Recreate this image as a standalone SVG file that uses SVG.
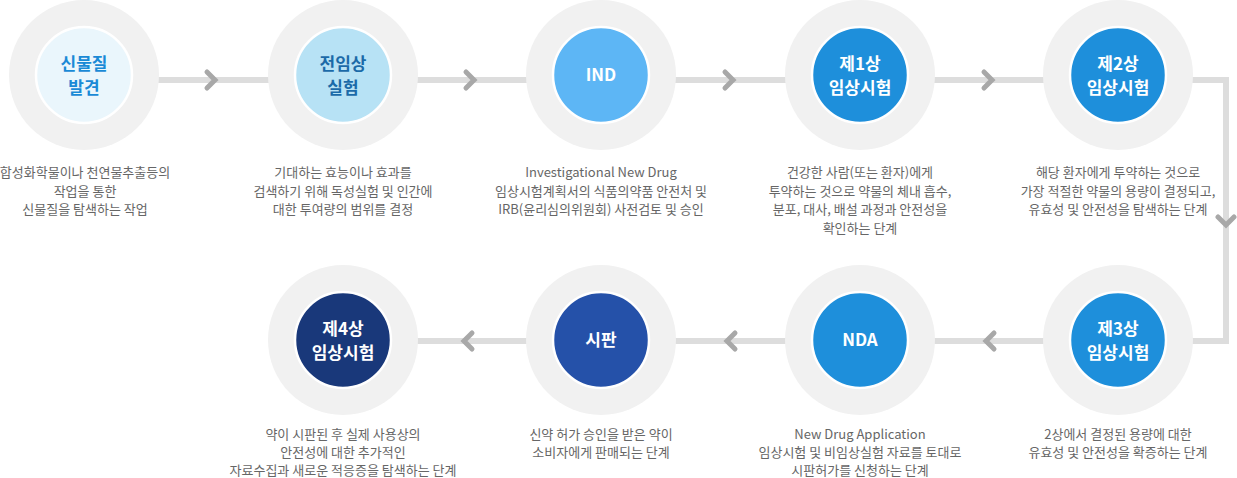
<svg xmlns="http://www.w3.org/2000/svg" width="1237" height="478" viewBox="0 0 1237 478">
<style>
.outer{fill:#f1f1f1}
.inner{stroke:#ffffff;stroke-width:2.5}
.title{font-family:"Noto Sans CJK KR","Noto Sans",sans-serif;font-size:17px;font-weight:bold;text-anchor:middle}
.desc{font-family:"Noto Sans CJK KR","Noto Sans",sans-serif;font-size:13px;fill:#666666;text-anchor:middle}
.line{fill:none;stroke:#dddddd;stroke-width:6}
.chev{fill:none;stroke:#a8a8a8;stroke-width:5;stroke-linejoin:miter;stroke-linecap:round}
.w{fill:#ffffff}
</style>
<rect width="1237" height="478" fill="#ffffff"/>
<g id="connectors">
<path class="line" d="M84,80 H1226 V341 H343"/>
<path class="chev" d="M-4,-8 L4,0 L-4,8" transform="translate(211,80)"/>
<path class="chev" d="M-4,-8 L4,0 L-4,8" transform="translate(470,80)"/>
<path class="chev" d="M-4,-8 L4,0 L-4,8" transform="translate(729,80)"/>
<path class="chev" d="M-4,-8 L4,0 L-4,8" transform="translate(988,80)"/>
<path class="chev" d="M-8,-4 L0,4 L8,-4" transform="translate(1226,221)"/>
<path class="chev" d="M4,-8 L-4,0 L4,8" transform="translate(990,341)"/>
<path class="chev" d="M4,-8 L-4,0 L4,8" transform="translate(731,341)"/>
<path class="chev" d="M4,-8 L-4,0 L4,8" transform="translate(468,341)"/>
</g>
<g id="node-discovery">
<circle class="outer" cx="84" cy="75" r="75"/>
<circle class="inner" cx="84" cy="75" r="48" fill="#eaf6fc"/>
<text class="title" x="84" y="70" fill="#1a8ad6">신물질</text>
<text class="title" x="84" y="94" fill="#1a8ad6">발견</text>
<text class="desc" x="85" y="177">합성화학물이나 천연물추출등의</text>
<text class="desc" x="85" y="195.5">작업을 통한</text>
<text class="desc" x="85" y="214">신물질을 탐색하는 작업</text>
</g>
<g id="node-preclinical">
<circle class="outer" cx="343" cy="75" r="75"/>
<circle class="inner" cx="343" cy="75" r="48" fill="#b7e2f5"/>
<text class="title" x="343" y="70" fill="#1b6aa8">전임상</text>
<text class="title" x="343" y="94" fill="#1b6aa8">실험</text>
<text class="desc" x="343" y="177">기대하는 효능이나 효과를</text>
<text class="desc" x="343" y="195.5">검색하기 위해 독성실험 및 인간에</text>
<text class="desc" x="343" y="214">대한 투여량의 범위를 결정</text>
</g>
<g id="node-ind">
<circle class="outer" cx="601" cy="75" r="75"/>
<circle class="inner" cx="601" cy="75" r="48" fill="#5db6f5"/>
<text class="title w" x="601" y="81">IND</text>
<text class="desc" x="601" y="177">Investigational New Drug</text>
<text class="desc" x="601" y="195.5">임상시험계획서의 식품의약품 안전처 및</text>
<text class="desc" x="601" y="214">IRB(윤리심의위원회) 사전검토 및 승인</text>
</g>
<g id="node-phase1">
<circle class="outer" cx="860" cy="75" r="75"/>
<circle class="inner" cx="860" cy="75" r="48" fill="#1e8fdb"/>
<text class="title w" x="860" y="70">제1상</text>
<text class="title w" x="860" y="94">임상시험</text>
<text class="desc" x="860" y="177">건강한 사람(또는 환자)에게</text>
<text class="desc" x="860" y="195.5">투약하는 것으로 약물의 체내 흡수,</text>
<text class="desc" x="860" y="214">분포, 대사, 배설 과정과 안전성을</text>
<text class="desc" x="860" y="232.5">확인하는 단계</text>
</g>
<g id="node-phase2">
<circle class="outer" cx="1118" cy="75" r="75"/>
<circle class="inner" cx="1118" cy="75" r="48" fill="#1e8fdb"/>
<text class="title w" x="1118" y="70">제2상</text>
<text class="title w" x="1118" y="94">임상시험</text>
<text class="desc" x="1118" y="177">해당 환자에게 투약하는 것으로</text>
<text class="desc" x="1118" y="195.5">가장 적절한 약물의 용량이 결정되고,</text>
<text class="desc" x="1118" y="214">유효성 및 안전성을 탐색하는 단계</text>
</g>
<g id="node-phase3">
<circle class="outer" cx="1118" cy="340" r="75"/>
<circle class="inner" cx="1118" cy="340" r="48" fill="#1e8fdb"/>
<text class="title w" x="1118" y="335">제3상</text>
<text class="title w" x="1118" y="359">임상시험</text>
<text class="desc" x="1118" y="438.5">2상에서 결정된 용량에 대한</text>
<text class="desc" x="1118" y="456.5">유효성 및 안전성을 확증하는 단계</text>
</g>
<g id="node-nda">
<circle class="outer" cx="860" cy="340" r="75"/>
<circle class="inner" cx="860" cy="340" r="48" fill="#1e8fdb"/>
<text class="title w" x="860" y="346">NDA</text>
<text class="desc" x="860" y="438.5">New Drug Application</text>
<text class="desc" x="860" y="456.5">임상시험 및 비임상실험 자료를 토대로</text>
<text class="desc" x="860" y="474.5">시판허가를 신청하는 단계</text>
</g>
<g id="node-market">
<circle class="outer" cx="601" cy="340" r="75"/>
<circle class="inner" cx="601" cy="340" r="48" fill="#2551a9"/>
<text class="title w" x="601" y="346">시판</text>
<text class="desc" x="601" y="438.5">신약 허가 승인을 받은 약이</text>
<text class="desc" x="601" y="456.5">소비자에게 판매되는 단계</text>
</g>
<g id="node-phase4">
<circle class="outer" cx="343" cy="340" r="75"/>
<circle class="inner" cx="343" cy="340" r="48" fill="#19387a"/>
<text class="title w" x="343" y="335">제4상</text>
<text class="title w" x="343" y="359">임상시험</text>
<text class="desc" x="343" y="438.5">약이 시판된 후 실제 사용상의</text>
<text class="desc" x="343" y="456.5">안전성에 대한 추가적인</text>
<text class="desc" x="343" y="474.5">자료수집과 새로운 적응증을 탐색하는 단계</text>
</g>
</svg>
